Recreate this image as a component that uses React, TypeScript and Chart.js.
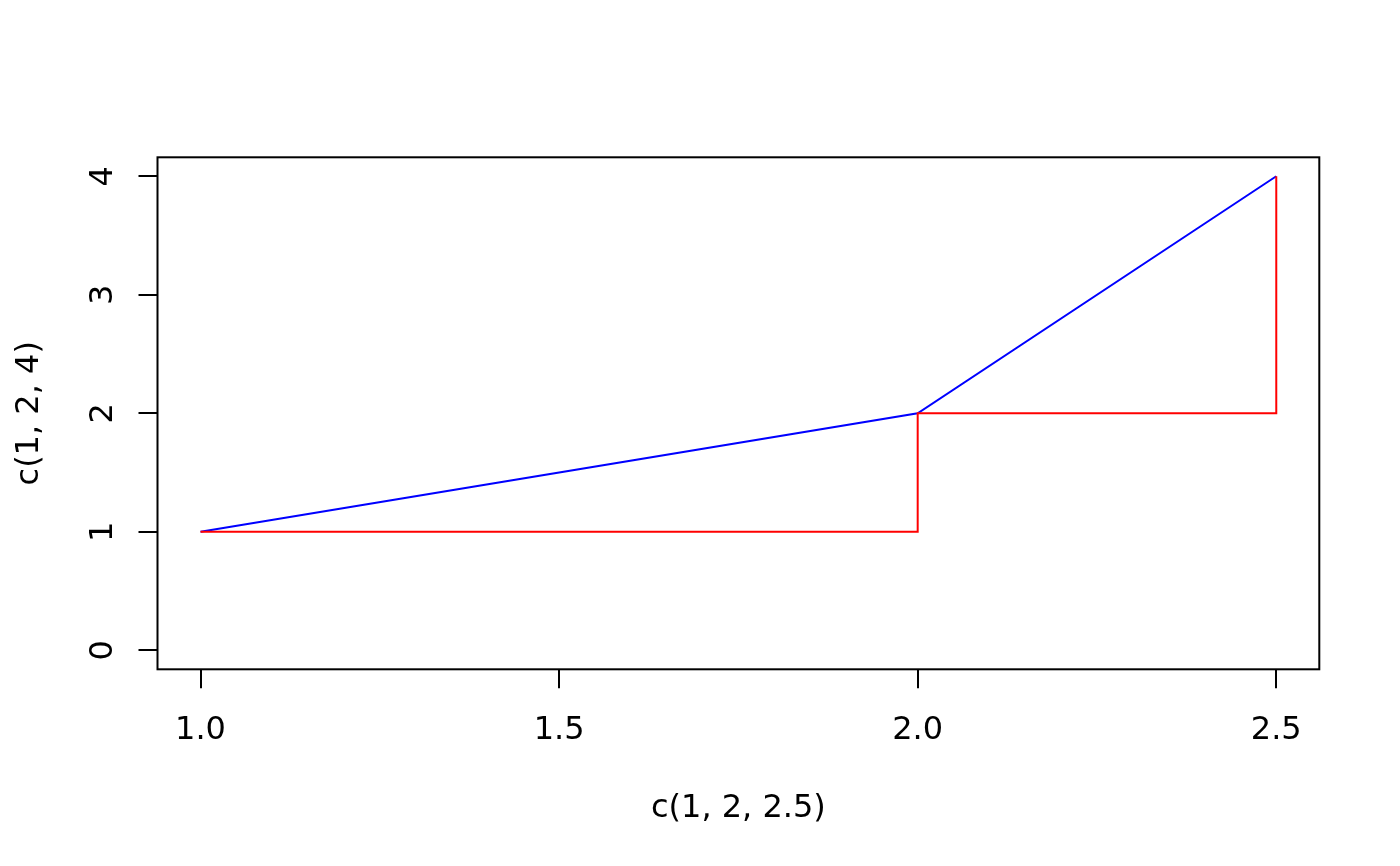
import { useEffect, useRef } from "react"
import { Chart, registerables } from "chart.js"
import type { Plugin } from "chart.js"

Chart.register(...registerables)

// values
const xValues = [1, 2, 2.5]
const yValues = [1, 2, 4]
const xTicks = [1.0, 1.5, 2.0, 2.5]
const yTicks = [0, 1, 2, 3, 4]
const xTitle = "c(1, 2, 2.5)"
const yTitle = "c(1, 2, 4)"

const FONT = '32px "DejaVu Sans"'

// R-style box, tick labels and axis titles (y labels are rotated like base graphics)
const baseAxesPlugin: Plugin<"scatter"> = {
  id: "baseAxes",
  afterDraw(chart) {
    const { ctx, chartArea, scales } = chart
    const { left, right, top, bottom } = chartArea
    ctx.save()
    ctx.strokeStyle = "#000"
    ctx.lineWidth = 2
    ctx.strokeRect(left, top, right - left, bottom - top)

    ctx.fillStyle = "#000"
    ctx.font = FONT
    ctx.textAlign = "center"
    ctx.textBaseline = "alphabetic"

    xTicks.forEach((v) => {
      ctx.fillText(v.toFixed(1), scales.x.getPixelForValue(v), bottom + 69.2)
    })
    ctx.fillText(xTitle, (left + right) / 2, bottom + 147.7)

    yTicks.forEach((v) => {
      ctx.save()
      ctx.translate(left - 46, scales.y.getPixelForValue(v))
      ctx.rotate(-Math.PI / 2)
      ctx.fillText(String(v), 0, 0)
      ctx.restore()
    })

    ctx.translate(left - 120, (top + bottom) / 2)
    ctx.rotate(-Math.PI / 2)
    ctx.fillText(yTitle, 0, 0)
    ctx.restore()
  },
}

export default function App() {
  const canvasRef = useRef<HTMLCanvasElement>(null)
  const chartRef = useRef<Chart<"scatter"> | null>(null)

  useEffect(() => {
    if (!canvasRef.current) return
    if (chartRef.current) chartRef.current.destroy()

    const points = xValues.map((x, i) => ({ x, y: yValues[i] }))

    const tickGrid = {
      drawOnChartArea: false,
      drawTicks: true,
      tickLength: 19,
      color: "#000",
      lineWidth: 2,
    }

    chartRef.current = new Chart(canvasRef.current, {
      type: "scatter",
      data: {
        datasets: [
          {
            data: points,
            showLine: true,
            stepped: true,
            borderColor: "#ff0000",
            borderWidth: 2,
            pointRadius: 0,
          },
          {
            data: points,
            showLine: true,
            borderColor: "#0000ff",
            borderWidth: 2,
            pointRadius: 0,
          },
        ],
      },
      options: {
        responsive: false,
        animation: false,
        events: [],
        layout: {
          padding: { left: 138.5, right: 80.7, top: 157.3, bottom: 177.7 },
        },
        plugins: {
          legend: { display: false },
          tooltip: { enabled: false },
        },
        scales: {
          x: {
            type: "linear",
            min: 0.94,
            max: 2.56,
            grid: tickGrid,
            border: { display: false },
            ticks: { display: false },
            afterBuildTicks: (axis) => {
              axis.ticks = xTicks.map((value) => ({ value }))
            },
            afterFit: (axis) => {
              axis.height = 19
            },
          },
          y: {
            type: "linear",
            min: -0.16,
            max: 4.16,
            grid: tickGrid,
            border: { display: false },
            ticks: { display: false },
            afterBuildTicks: (axis) => {
              axis.ticks = yTicks.map((value) => ({ value }))
            },
            afterFit: (axis) => {
              axis.width = 19
            },
          },
        },
      },
      plugins: [baseAxesPlugin],
    })

    return () => {
      if (chartRef.current) {
        chartRef.current.destroy()
        chartRef.current = null
      }
    }
  }, [])

  return (
    <div style={{ position: "fixed", left: 0, top: 0, width: 1400, height: 866, background: "#fff" }}>
      <canvas ref={canvasRef} width={1400} height={866} />
    </div>
  )
}
